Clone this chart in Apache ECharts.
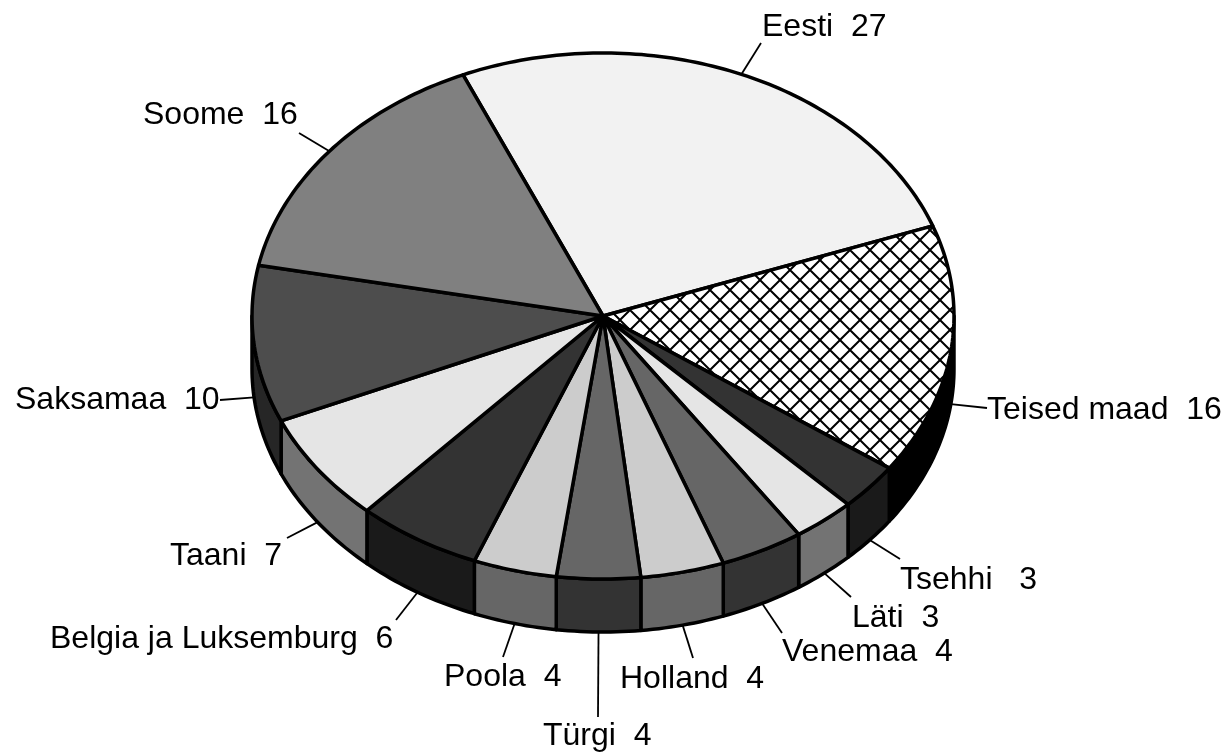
<!DOCTYPE html>
<html>
<head>
<meta charset="utf-8">
<style>html,body{margin:0;padding:0;background:#fff}#main{width:1228px;height:753px}</style>
<script src="https://cdn.jsdelivr.net/npm/echarts@6/dist/echarts.min.js"></script>
</head>
<body>
<div id="main"></div>
<script>
// clockwise from Eesti, same order as the pie
var names = ['Eesti', 'Teised maad', 'Tsehhi', 'Läti', 'Venemaa', 'Holland', 'Türgi', 'Poola', 'Belgia ja Luksemburg', 'Taani', 'Saksamaa', 'Soome'];
var values = [27, 16, 3, 3, 4, 4, 4, 4, 6, 7, 10, 16];
var gaps = ['  ', '  ', '   ', '  ', '  ', '  ', '  ', '  ', '  ', '  ', '  ', '  '];

// greys for the top face and the rim
var topColors = ['#f2f2f2', 'hatch', '#333333', '#e5e5e5', '#666666', '#cccccc', '#666666', '#cccccc', '#333333', '#e5e5e5', '#4d4d4d', '#808080'];
var sideColors = ['#000', '#000000', '#1a1a1a', '#737373', '#333333', '#666666', '#333333', '#666666', '#1a1a1a', '#737373', '#262626', '#000'];

// where the label text starts and where its leader stops
var labelX = [762, 987, 900, 852, 782, 620, 543, 444, 50, 170, 15, 143];
var labelY = [27, 410, 580, 618, 652, 679, 736, 677, 639, 556, 400, 115];
var leaderEnd = [[761, 43], [987, 408], [900, 559], [851, 597], [782, 633], [693, 658], [598, 717], [503, 657], [396, 620], [287, 538], [220, 400], [299, 133]];

var cx = 603, cy = 316, rx = 351, ry = 263, depth = 53;
var startDeg = -23.5;
var fontCss = '32px "Liberation Sans", Arial, sans-serif';

var total = values.reduce(function (a, b) { return a + b; }, 0);
var spans = [], acc = startDeg;
values.forEach(function (v) {
    var next = acc + v / total * 360;
    spans.push([acc, next]);
    acc = next;
});

function rim(deg, dy) {
    var a = deg * Math.PI / 180;
    return [cx + rx * Math.sin(a), cy - ry * Math.cos(a) + (dy || 0)];
}

function arcPoints(from, to, dy) {
    var pts = [], n = Math.max(2, Math.ceil(Math.abs(to - from)));
    for (var i = 0; i <= n; i++) pts.push(rim(from + (to - from) * i / n, dy));
    return pts;
}

function hatchTile() {
    var s = 20, c = document.createElement('canvas');
    c.width = c.height = s;
    var g = c.getContext('2d');
    g.fillStyle = '#fff';
    g.fillRect(0, 0, s, s);
    g.strokeStyle = '#000';
    g.lineWidth = 2;
    g.beginPath();
    g.moveTo(-2, -2); g.lineTo(s + 2, s + 2);
    g.moveTo(s + 2, -2); g.lineTo(-2, s + 2);
    g.stroke();
    return c;
}
var hatch = { image: hatchTile(), repeat: 'repeat' };

function renderSlice(params, api) {
    var i = api.value(0);
    var from = spans[i][0], to = spans[i][1];
    var children = [];

    // rim only exists on the front half (90..270 from the top)
    var a = Math.max(from, 90), b = Math.min(to, 270);
    if (b > a) {
        children.push({
            type: 'polygon',
            shape: { points: arcPoints(a, b, 0).concat(arcPoints(b, a, depth)) },
            style: { fill: sideColors[i], stroke: '#000', lineWidth: 3.5, lineJoin: 'round' }
        });
    }

    children.push({
        type: 'polygon',
        shape: { points: [[cx, cy]].concat(arcPoints(from, to, 0)) },
        style: {
            fill: topColors[i] === 'hatch' ? hatch : topColors[i],
            stroke: '#000', lineWidth: 3.5, lineJoin: 'round'
        }
    });

    // leader from the outer edge at the middle of the slice
    var mid = (from + to) / 2;
    var norm = (mid + 360) % 360;
    var start = rim(mid, norm > 90 && norm < 270 ? depth : 0);
    children.push({
        type: 'line',
        shape: { x1: start[0], y1: start[1], x2: leaderEnd[i][0], y2: leaderEnd[i][1] },
        style: { stroke: '#000', lineWidth: 1.8 }
    });

    children.push({
        type: 'text',
        style: {
            text: names[i] + gaps[i] + values[i],
            x: labelX[i], y: labelY[i],
            font: fontCss, fill: '#000',
            textAlign: 'left', textVerticalAlign: 'middle'
        }
    });

    return { type: 'group', children: children };
}

var chart = echarts.init(document.getElementById('main'), null, { renderer: 'canvas' });
chart.setOption({
    animation: false,
    backgroundColor: '#fff',
    series: [{
        type: 'custom',
        coordinateSystem: 'none',
        renderItem: renderSlice,
        data: values.map(function (v, i) { return [i, v]; })
    }]
});
</script>
</body>
</html>
